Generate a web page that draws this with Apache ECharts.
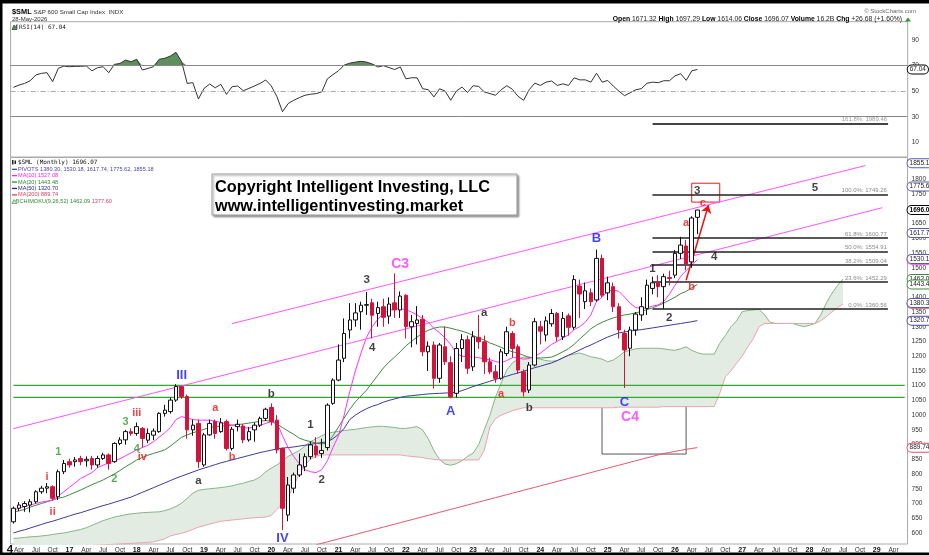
<!DOCTYPE html>
<html>
<head>
<meta charset="utf-8">
<script src="https://cdn.jsdelivr.net/npm/echarts@6.0.0/dist/echarts.min.js"></script>
<style>html,body{margin:0;padding:0;background:#fff;}#chart{width:929px;height:555px;}</style>
</head>
<body>
<div id="chart"></div>
<script>
// ---------- categories (monthly, Mar 2016 .. Jun 2029) ----------
const firstYear = 2016, firstMonth = 3, monthCount = 160;
const months = [];
for (let k = 0; k < monthCount; k++) {
  const m0 = firstMonth - 1 + k;
  months.push((firstYear + Math.floor(m0 / 12)) + '-' + String(m0 % 12 + 1).padStart(2, '0'));
}

// ---------- monthly candles [open, close, low, high] ----------
const candles = [
[638,684,632,690],[684,695,675,705],[690,700,672,708],[695,706,670,715],[706,740,700,745],[740,752,733,760],[752,757,735,770],[757,718,710,762],[723,808,712,815],[808,836,800,848],
[842,831,822,852],[842,848,825,858],[853,842,830,862],[845,850,825,860],[853,831,815,862],[831,853,822,862],[853,865,848,872],[865,836,815,870],[842,904,838,908],[904,916,898,925],[916,944,900,950],[944,938,930,955],
[938,961,930,975],[955,921,890,960],[915,938,905,955],[932,946,915,955],[944,1006,940,1010],[1006,1017,995,1035],[1012,1051,1005,1060],[1051,1097,1045,1105],[1097,1063,1055,1100],[1063,950,920,1070],[950,966,930,985],[972,842,820,985],
[831,933,825,940],[933,972,930,985],[978,938,920,985],[944,974,940,990],[978,887,880,985],[887,952,880,960],[961,969,945,985],[963,916,905,970],[916,944,910,960],[950,966,910,975],[966,989,960,995],[989,1020,980,1025],
[1026,978,965,1040],[983,882,870,1000],[887,684,610,890],[661,763,640,790],[752,797,735,805],[797,831,790,870],[825,859,810,870],[859,899,850,910],[895,865,855,925],[870,880,855,920],[890,1034,880,1040],[1040,1119,1035,1125],
[1119,1187,1115,1240],[1193,1277,1180,1328],[1289,1323,1260,1380],[1323,1347,1300,1380],[1351,1373,1290,1385],[1373,1375,1340,1418],[1381,1339,1260,1395],[1345,1365,1300,1385],[1368,1332,1300,1395],[1336,1377,1310,1400],[1381,1357,1330,1481],[1357,1404,1330,1420],
[1407,1300,1260,1410],[1300,1317,1230,1340],[1311,1323,1240,1370],[1325,1215,1200,1340],[1215,1234,1150,1250],[1238,1125,1090,1250],[1125,1238,1110,1245],[1232,1181,1170,1300],[1178,1062,1057,1200],[1074,1226,1060,1245],[1226,1256,1180,1275],[1256,1159,1140,1270],
[1164,1266,1150,1285],[1264,1249,1225,1340],[1249,1181,1140,1270],[1181,1147,1140,1195],[1147,1125,1110,1170],[1125,1215,1120,1225],[1209,1283,1200,1300],[1277,1226,1195,1285],[1232,1153,1140,1240],[1147,1079,1063,1155],[1085,1170,1075,1180],[1170,1317,1165,1330],
[1300,1285,1240,1320],[1272,1320,1250,1335],[1310,1345,1300,1360],[1345,1266,1250,1350],[1266,1328,1255,1350],[1337,1298,1270,1345],[1298,1460,1290,1475],[1438,1411,1330,1460],[1385,1422,1360,1450],[1415,1385,1370,1430],[1391,1532,1385,1562],[1532,1407,1400,1545],
[1415,1449,1390,1470],[1436,1368,1350,1450],[1368,1289,1260,1380],[1277,1221,1092,1290],[1227,1289,1200,1300],[1289,1343,1270,1350],[1340,1368,1320,1400],[1362,1441,1340,1460],[1430,1449,1410,1470],[1449,1436,1400,1475],[1436,1470,1361,1480],[1467,1464,1440,1490],
[1475,1549,1465,1560],[1549,1577,1530,1605],[1574,1513,1492,1594],[1520,1669,1500,1675],[1671.32,1696.07,1614.06,1697.29]
];

// ---------- RSI(14) ----------
const rsi = [53.0,54.8,56.1,58.2,62.7,64.0,64.5,57.5,67.9,69.7,
 69.2,69.5,69.5,69.8,66.0,68.4,69.2,64.5,71.0,71.8,74.4,73.1,
 75.0,66.6,67.9,69.2,75.0,75.8,77.6,80.5,73.1,56.1,56.7,43.9,
 52.2,55.6,52.7,55.4,47.5,53.5,54.1,50.4,52.2,54.1,56.1,58.8,
 54.1,45.7,33.9,40.3,42.9,45.0,46.8,47.6,48.1,49.5,59.7,63.0,
 66.1,70.5,72.0,72.8,73.4,72.8,71.3,69.0,70.0,68.5,67.0,69.0,
 59.7,60.5,60.5,51.9,51.2,45.5,51.9,50.1,42.9,50.1,53.2,49.0,
 54.3,53.7,49.4,48.1,46.8,51.2,54.3,51.5,46.0,42.9,51.2,56.3,
 54.5,57.1,58.0,54.5,55.8,54.5,60.5,58.9,58.9,57.1,64.1,57.1,
 58.4,54.0,50.0,46.5,48.8,51.1,52.0,56.2,57.1,56.7,58.2,58.2,
 62.0,63.7,58.5,66.0,67.04];
const rsiLevels = [70, 30];
const rsiMid = 50;
const rsiTicks = [10, 30, 50, 70, 90];

// ---------- moving averages ----------
const ma10 = [678,684,690,695,700,705,708,712,725,740,
 755,770,785,795,805,822,830,838,845,852,862,872,
 882,890,898,910,925,940,958,985,995,990,985,983,
 983,983,980,975,970,966,962,958,956,960,965,972,
 978,975,930,890,860,835,815,808,805,815,845,890,
 930,1000,1080,1150,1210,1265,1300,1325,1345,1355,1360,1362,
 1358,1350,1340,1328,1315,1295,1280,1262,1240,1210,1200,1198,
 1197,1195,1190,1188,1182,1178,1185,1195,1195,1190,1192,1200,
 1210,1225,1240,1250,1262,1272,1290,1300,1315,1340,1385,1400,
 1420,1425,1420,1401,1380,1365,1363,1363,1370,1374,1385,1410,
 1440,1470,1490,1510,1527.08];
const ma20 = [671,675,680,688,694,700,706,712,718,722,
 730,738,746,755,764,772,780,790,800,812,825,836,
 848,856,864,870,876,882,895,910,925,933,940,946,
 952,958,961,963,964,966,968,970,973,976,979,982,
 978,970,958,946,935,922,915,910,905,902,905,930,
 960,990,1020,1045,1065,1085,1110,1135,1160,1180,1197,1215,
 1235,1250,1265,1278,1288,1295,1299,1299,1295,1290,1285,1279,
 1270,1262,1255,1245,1238,1230,1222,1215,1211,1203,1196,1194,
 1194,1195,1197,1205,1215,1225,1240,1258,1275,1293,1305,1315,
 1323,1330,1335,1340,1343,1347,1352,1358,1364,1372,1380,1390,
 1400,1412,1420,1432,1443.48];
const ma50 = [600,606,611,617,623,629,635,640,646,652,
 658,664,669,675,681,687,693,698,704,710,716,722,
 730,738,746,754,762,770,778,786,793,800,807,814,
 820,826,832,838,843,848,853,858,863,868,873,877,
 881,885,888,890,892,895,898,901,904,907,909,920,
 935,955,985,1000,1012,1022,1030,1036,1044,1050,1055,1060,
 1064,1066,1068,1070,1072,1073,1074,1075,1076,1078,1083,1090,
 1097,1103,1109,1115,1121,1127,1132,1138,1143,1149,1155,1161,
 1166,1172,1177,1185,1194,1203,1212,1221,1230,1238,1247,1256,
 1265,1272,1279,1282,1285,1288,1290,1293,1296,1299,1302,1305,
 1308,1311,1314,1317,1320.70];
const ma200 = [null,null,null,null,null,null,null,null,null,null,
 null,null,null,null,null,null,null,null,null,null,null,null,
 null,null,null,null,null,null,null,null,null,null,null,null,
 null,null,null,null,null,null,null,null,null,null,null,null,
 null,null,null,null,null,null,null,null,560,565,570,575,
 580,585,590,595,600,605,610,615,620,625,630,635,
 640,645,650,655,660,665,670,675,680,685,690,695,
 700,705,710,715,720,725,730,735,740,745,750,755,
 760,765,770,775,780,785,790,795,800,805,810,815,
 820,825,830,835,840,845,850,855,860,865,870,873,
 877,880,884,887,889.74];

// ---------- Ichimoku cloud (spans, shifted 26 months ahead) ----------
const spanA = [582,583,585,587,588,590,592,595,598,600,
 604,608,612,618,626,634,642,648,654,658,662,665,
 667,669,670,671,672,676,682,690,701,718,735,745,
 748,750,752,754,757,760,765,769,775,780,790,808,
 820,831,845,860,870,880,895,910,920,930,938,942,
 945,948,950,952,955,958,960,962,962,960,958,955,
 955,958,961,950,920,880,850,834,830,835,845,860,
 871,900,950,1000,1061,1109,1153,1177,1190,1197,1197,1195,
 1190,1185,1183,1185,1195,1203,1207,1211,1205,1198,1195,1190,
 1181,1187,1200,1215,1220,1225,1227,1227,1227,1227,1225,1222,
 1220,1225,1232,1220,1212,1207,1207,1207,1244,1270,1300,1320,
 1351,1355,1357,1359,1340,1315,1311,1311,1311,1311,1305,1300,
 1305,1311,1340,1380,1413,1440,1462.09];
const spanB = [545,545,546,547,548,549,550,551,552,553,
 554,555,556,557,558,559,560,561,562,563,564,565,
 566,567,568,570,575,580,590,595,599,605,612,620,
 625,630,635,640,642,644,646,648,650,652,653,654,
 660,680,700,720,760,800,830,850,860,865,865,865,
 865,865,865,865,865,865,865,865,865,865,865,865,
 862,860,858,856,852,850,848,848,848,848,848,848,
 848,848,880,960,988,1000,1007,1015,1020,1025,1025,1025,
 1025,1025,1025,1025,1025,1025,1025,1025,1025,1025,1025,1025,
 1025,1025,1027,1027,1027,1027,1027,1027,1027,1027,1029,1029,
 1029,1029,1029,1029,1029,1029,1029,1029,1074,1130,1150,1176,
 1200,1232,1260,1300,1311,1311,1311,1311,1311,1311,1311,1311,
 1311,1311,1320,1334,1350,1365,1377.6];

// ---------- price axis tick labels ----------
const priceTicks = [600,650,700,750,800,850,900,950,1000,1050,1100,1150,1200,1250,1300,1350,1400,1450,1500,1550,1600,1650,1700,1750,1800,1850];

// ---------- Fibonacci levels ----------
const fibNames  = ['100.0%', '61.8%', '50.0%', '38.2%', '23.6%', '0.0%'];
const fibValues = [1749.26, 1600.77, 1554.91, 1509.04, 1452.29, 1360.56];
const fibExtName = '161.8%', fibExtValue = 1989.46;
const fibFrom = '2025-09', fibTo = '2029-03';

// ---------- horizontal support lines ----------
const supportLines = [1101, 1060];

// ---------- trend channel lines [from, to] as [month, value] ----------
const channels = [
  [['2016-03', 954], ['2029-02', 1704]],
  [['2019-06', 1310.5], ['2028-11', 1847]],
  [['2016-03', 557], ['2029-02', 1307]]
];

// ---------- boxes & arrow ----------
const blackBox = [['2024-12', 1134], ['2026-03', 868]];
const redBox = [['2026-04', 1787], ['2026-09', 1723]];
const redArrow = [['2026-03', 1458], ['2026-07', 1713]];

// ---------- right-edge value tags ----------
const pivotTags = [1855.18, 1775.62, 1617.74, 1530.18, 1380.30];
const lastClose = 1696.07;
const maTags = { ma10: 1527.08, ma20: 1443.48, ma50: 1320.70, ma200: 889.74 };
const ichiTags = { a: 1462.09, b: 1377.60 };
const rsiLast = 67.04;

// ---------- Elliott wave annotations [month, value, text] ----------
const blueLabels = [['2018-09',1136,'III'],['2020-03',583,'IV'],['2022-09',1011,'A'],['2024-11',1598,'B'],['2025-04',1044,'C']];
const magentaLabels = [['2021-12',1513,'C3'],['2025-05',994,'C4']];
const blackLabels = [['2018-12',776,'a'],['2020-01',1072,'b'],['2020-08',966,'1'],['2020-10',780,'2'],['2021-06',1458,'3'],['2021-07',1228,'4'],
  ['2023-03',1346,'a'],['2023-11',1024,'b'],['2025-09',1496,'1'],['2025-12',1329,'2'],['2026-05',1760,'3'],['2026-08',1537,'4'],['2028-02',1771,'5']];
const redLabels = [['2016-09',790,'i'],['2016-10',671,'ii'],['2018-01',1007,'iii'],['2018-02',858,'iv'],['2019-03',1024,'a'],['2019-06',858,'b'],
  ['2023-06',1072,'a'],['2023-08',1313,'b'],['2026-03',1652,'a'],['2026-04',1435,'b'],['2026-06',1720,'c']];
const greenLabels = [['2016-11',875,'1'],['2017-09',783,'2'],['2017-11',977,'3'],['2018-01',885,'4']];

// =====================================================================
const SANS = '"Liberation Sans", Arial, sans-serif';
const MONO = '"DejaVu Sans Mono", monospace';
const GL = 10.6, GR = 21.3;
const nulls = months.map(() => null);
const CLEAR = 'rgba(0,0,0,0)';

const chart = echarts.init(document.getElementById('chart'), null, { renderer: 'canvas', width: 929, height: 555 });

function hiddenCat(gi) {
  return { type: 'category', gridIndex: gi, data: months, boundaryGap: true,
    axisLine: { show: false }, axisTick: { show: false }, axisLabel: { show: false }, splitLine: { show: false } };
}
function tag(v, color, bold) {
  return { yAxis: v, lineStyle: { color: CLEAR, width: 1, type: 'solid' },
    label: { show: true, position: 'end', distance: 0, formatter: v.toFixed(2), color: bold ? '#000' : '#222', fontSize: 6.5, fontFamily: SANS,
      fontWeight: bold ? 'bold' : 'normal',
      backgroundColor: '#fff', borderColor: color, borderWidth: 1, borderRadius: 4, padding: [1, 2, 0, 2] } };
}
function annSeries(list, color, size) {
  return { type: 'scatter', xAxisIndex: 1, yAxisIndex: 1, symbolSize: 1, silent: true, z: 20,
    itemStyle: { color: CLEAR },
    label: { show: true, position: 'inside', color: color, fontSize: size, fontWeight: 'bold', fontFamily: SANS },
    data: list.map(d => ({ value: [d[0], d[1]], label: { formatter: d[2] } })) };
}

const option = {
  animation: false,
  backgroundColor: '#fff',
  grid: [
    { left: GL, right: GR, top: 21.7, height: 135.3, show: true, borderColor: '#aaa', borderWidth: 1, backgroundColor: '#fff' },
    { left: GL, right: GR, top: 157.5, height: 386.5, show: true, borderColor: '#aaa', borderWidth: 1, backgroundColor: 'transparent' },
    { left: GL, right: GR, top: 21.7, height: 522.3, show: false }
  ],
  xAxis: [
    hiddenCat(0),
    { type: 'category', gridIndex: 1, data: months, boundaryGap: true,
      axisLine: { show: false }, axisTick: { show: false }, splitLine: { show: false },
      axisLabel: { show: true, margin: 3, fontSize: 6.5, color: '#333', fontFamily: SANS, hideOverlap: false,
        interval: (idx, val) => ['01', '04', '07', '10'].includes(val.slice(5)),
        formatter: (val) => { const m = val.slice(5); if (m === '01') return '{y|' + val.slice(2, 4) + '}'; return { '04': 'Apr', '07': 'Jul', '10': 'Oct' }[m]; },
        rich: { y: { fontWeight: 'bold', fontSize: 7, color: '#111', fontFamily: SANS } } } },
    hiddenCat(2)
  ],
  yAxis: [
    { type: 'value', gridIndex: 0, position: 'right', min: -1.6, max: 104.5,
      axisLine: { show: false }, axisTick: { show: false }, splitLine: { show: false },
      axisLabel: { customValues: rsiTicks, formatter: v => String(v), fontSize: 6.5, color: '#333', fontFamily: SANS, margin: 4 } },
    { type: 'value', gridIndex: 1, position: 'right', min: 562.7, max: 1874.3,
      axisLine: { show: false }, axisTick: { show: false }, splitLine: { show: false },
      axisLabel: { customValues: priceTicks, formatter: v => String(v), fontSize: 6.5, color: '#333', fontFamily: SANS, margin: 4 } },
    { type: 'value', gridIndex: 2, min: 562.7, max: 2335.2, show: false }
  ],
  series: [
    // ---- RSI panel ----
    { type: 'line', xAxisIndex: 0, yAxisIndex: 0, data: rsi.map(v => Math.max(v, rsiLevels[0])), symbol: 'none', silent: true,
      lineStyle: { width: 0, color: CLEAR }, areaStyle: { origin: rsiLevels[0], color: '#5f8f5f', opacity: 1 }, z: 2 },
    { type: 'line', xAxisIndex: 0, yAxisIndex: 0, data: rsi, symbol: 'none', silent: true,
      lineStyle: { color: '#333', width: 1 }, z: 3,
      markLine: { symbol: 'none', silent: true, label: { show: false },
        data: [
          { yAxis: rsiLevels[0], lineStyle: { color: '#888', width: 1, type: 'solid' } },
          { yAxis: rsiLevels[1], lineStyle: { color: '#888', width: 1, type: 'solid' } },
          { yAxis: rsiMid, lineStyle: { color: '#aaa', width: 1, type: [5, 2, 1, 2] } },
          tag(rsiLast, '#000', false)
        ] } },
    // ---- Ichimoku cloud ----
    { type: 'line', xAxisIndex: 1, yAxisIndex: 1, stack: 'cloud', symbol: 'none', silent: true, z: 1,
      data: spanA.map((a, k) => Math.min(a, spanB[k])), lineStyle: { color: CLEAR } },
    { type: 'line', xAxisIndex: 1, yAxisIndex: 1, stack: 'cloud', symbol: 'none', silent: true, z: 1,
      data: spanA.map((a, k) => Math.abs(a - spanB[k])), lineStyle: { color: CLEAR },
      areaStyle: { color: '#e3ece3', opacity: 1 } },
    { type: 'line', xAxisIndex: 1, yAxisIndex: 1, data: spanA, symbol: 'none', silent: true, z: 2,
      lineStyle: { color: '#88b488', width: 1 } },
    { type: 'line', xAxisIndex: 1, yAxisIndex: 1, data: spanB, symbol: 'none', silent: true, z: 2,
      lineStyle: { color: '#e8a4ac', width: 1 } },
    // ---- support lines (green), drawn as a plain line series per level ----
    ...supportLines.map(v => ({ type: 'line', xAxisIndex: 1, yAxisIndex: 1, symbol: 'none', silent: true, z: 3,
      data: [[months[0], v], [months[monthCount - 1], v]],
      itemStyle: { color: '#2eaa2e' }, lineStyle: { color: '#2eaa2e', width: 1.2, opacity: 1 } })),
    // ---- overlays: channels, boxes, arrow ----
    { type: 'line', xAxisIndex: 1, yAxisIndex: 1, data: nulls, symbol: 'none', silent: true, z: 3,
      markLine: { symbol: 'none', silent: true, label: { show: false },
        data: [
          ...channels.map(c => [{ coord: c[0], lineStyle: { color: '#ff55ff', width: 1, type: 'solid' } }, { coord: c[1] }]),
          [{ coord: redArrow[0], symbol: 'none', lineStyle: { color: '#ee1111', width: 1.5, type: 'solid' } }, { coord: redArrow[1], symbol: 'arrow', symbolSize: 8 }]
        ] },
      markArea: { silent: true,
        data: [
          [{ coord: blackBox[0], itemStyle: { color: CLEAR, borderColor: '#555', borderWidth: 1 } }, { coord: blackBox[1] }],
          [{ coord: redBox[0], itemStyle: { color: CLEAR, borderColor: '#e02020', borderWidth: 1 } }, { coord: redBox[1] }]
        ] } },
    // ---- moving averages ----
    { type: 'line', xAxisIndex: 1, yAxisIndex: 1, data: ma200, symbol: 'none', silent: true, z: 4, lineStyle: { color: '#e2566e', width: 1 } },
    { type: 'line', xAxisIndex: 1, yAxisIndex: 1, data: ma50, symbol: 'none', silent: true, z: 4, lineStyle: { color: '#3a3a9a', width: 1 } },
    { type: 'line', xAxisIndex: 1, yAxisIndex: 1, data: ma20, symbol: 'none', silent: true, z: 4, lineStyle: { color: '#3f8a3f', width: 1 } },
    { type: 'line', xAxisIndex: 1, yAxisIndex: 1, data: ma10, symbol: 'none', silent: true, z: 4, lineStyle: { color: '#ff33ff', width: 1 } },
    // ---- fib lines ----
    { type: 'line', xAxisIndex: 1, yAxisIndex: 1, data: nulls, symbol: 'none', silent: true, z: 5,
      markLine: { symbol: 'none', silent: true,
        data: fibValues.map((v, k) => [
          { coord: [fibFrom, v], lineStyle: { color: '#222', width: 1.5, type: 'solid' },
            label: { show: true, position: 'insideEndTop', distance: 1, formatter: fibNames[k] + ': ' + v.toFixed(2), color: '#8a8a8a', fontSize: 6, fontFamily: SANS } },
          { coord: [fibTo, v] }]) } },
    { type: 'line', xAxisIndex: 2, yAxisIndex: 2, data: nulls, symbol: 'none', silent: true, z: 5,
      markLine: { symbol: 'none', silent: true,
        data: [[{ coord: [fibFrom, fibExtValue], lineStyle: { color: '#444', width: 2, type: 'solid' },
          label: { show: true, position: 'insideEndTop', distance: 1, formatter: fibExtName + ': ' + fibExtValue.toFixed(2), color: '#999', fontSize: 6, fontFamily: SANS } },
          { coord: [fibTo, fibExtValue] }]] } },
    // ---- price candles ----
    { type: 'candlestick', xAxisIndex: 1, yAxisIndex: 1, data: candles, barWidth: 4, silent: true, z: 6,
      itemStyle: { color: '#ffffff', borderColor: '#111', color0: '#d2143c', borderColor0: '#d2143c', borderWidth: 1 } },
    // ---- right-edge tags ----
    { type: 'line', xAxisIndex: 1, yAxisIndex: 1, data: nulls, symbol: 'none', silent: true, z: 30,
      markLine: { symbol: 'none', silent: true,
        data: [
          tag(ichiTags.b, '#e0506a'),
          tag(maTags.ma10, '#ff33ff'),
          tag(ichiTags.a, '#3f8a3f'),
          tag(maTags.ma20, '#3f8a3f'),
          tag(maTags.ma50, '#4a4aa8'),
          tag(maTags.ma200, '#e0506a'),
          ...pivotTags.map(v => tag(v, '#5a5ab0')),
          tag(lastClose, '#000', true)
        ] } },
    // ---- wave labels ----
    annSeries(blueLabels, '#1515ff', 13),
    annSeries(magentaLabels, '#ff33ff', 14),
    annSeries(blackLabels, '#111', 11.5),
    annSeries(redLabels, '#ee1111', 11),
    annSeries(greenLabels, '#2f9a2f', 11)
  ],
  graphic: [
    // frame
    { type: 'rect', shape: { x: 0, y: 0, width: 929, height: 3.5 }, style: { fill: '#000' }, z: 100 },
    { type: 'rect', shape: { x: 0, y: 0, width: 2.5, height: 555 }, style: { fill: '#000' }, z: 100 },
    { type: 'rect', shape: { x: 0, y: 552.5, width: 929, height: 2.5 }, style: { fill: '#000' }, z: 100 },
    // header
    { type: 'text', x: 12, y: 12, style: { text: '$SML', font: 'bold 7.4px ' + SANS, fill: '#000', verticalAlign: 'middle' }, z: 100 },
    { type: 'text', x: 33.5, y: 12.3, style: { text: 'S&P 600 Small Cap Index  INDX', font: '6.2px ' + SANS, fill: '#333', verticalAlign: 'middle' }, z: 100 },
    { type: 'text', x: 12, y: 19.5, style: { text: '28-May-2026', font: '6px ' + SANS, fill: '#333', verticalAlign: 'middle' }, z: 100 },
    { type: 'text', x: 916, y: 11, style: { text: '\u00A9 StockCharts.com', font: '6px ' + SANS, fill: '#666', align: 'right', verticalAlign: 'middle' }, z: 100 },
    { type: 'text', x: 902, y: 19.3, style: { text: '{b|Open} 1671.32 {b|High} 1697.29 {b|Low} 1614.06 {b|Close} 1696.07 {b|Volume} 16.2B {b|Chg} +26.68 (+1.60%)',
        font: '6.8px ' + SANS, fill: '#222', align: 'right', verticalAlign: 'middle',
        rich: { b: { fontWeight: 'bold', fontSize: 6.8, fontFamily: SANS, fill: '#000' } } }, z: 100 },
    { type: 'polygon', shape: { points: [[905, 21.5], [911, 21.5], [908, 17.5]] }, style: { fill: '#2a9a2a' }, z: 100 },
    // RSI legend
    { type: 'polygon', shape: { points: [[12, 29.5], [14, 25], [15.5, 27], [17, 24.5], [17, 29.5]] }, style: { fill: '#5f8f5f', stroke: '#222', lineWidth: 0.6 }, z: 100 },
    { type: 'text', x: 19, y: 27.3, style: { text: 'RSI(14) 67.04', font: '6px ' + MONO, fill: '#222', verticalAlign: 'middle' }, z: 100 },
    // main legend
    { type: 'rect', shape: { x: 12, y: 160, width: 1.5, height: 4.5 }, style: { fill: '#222' }, z: 100 },
    { type: 'rect', shape: { x: 14.5, y: 160.5, width: 1.5, height: 3.5 }, style: { fill: '#222' }, z: 100 },
    { type: 'text', x: 18, y: 162.5, style: { text: '$SML (Monthly) 1696.07', font: '6px ' + MONO, fill: '#111', verticalAlign: 'middle' }, z: 100 },
    ...[
      ['PIVOTS 1380.30, 1530.18, 1617.74, 1775.62, 1855.18', '#4646a8', 169.3],
      ['MA(10) 1527.08', '#ff22ff', 175.6],
      ['MA(20) 1443.48', '#338833', 182],
      ['MA(50) 1320.70', '#26268f', 188.4],
      ['MA(200) 889.74', '#e0405e', 194.8]
    ].flatMap(r => [
      { type: 'rect', shape: { x: 12, y: r[2] - 0.6, width: 5, height: 1.3 }, style: { fill: r[1] }, z: 100 },
      { type: 'text', x: 18, y: r[2], style: { text: r[0], font: '5.6px ' + SANS, fill: r[1], verticalAlign: 'middle' }, z: 100 }
    ]),
    { type: 'polygon', shape: { points: [[12, 203.5], [14, 199.5], [15.5, 201.5], [17, 199], [17, 203.5]] }, style: { fill: '#cfe0cf', stroke: '#338833', lineWidth: 0.6 }, z: 100 },
    { type: 'text', x: 18, y: 201.2, style: { text: 'ICHIMOKU(9,26,52) 1462.09 {r|1377.60}', font: '5.6px ' + SANS, fill: '#338833', verticalAlign: 'middle',
        rich: { r: { fill: '#e0405e', fontSize: 5.6, fontFamily: SANS } } }, z: 100 },
    // copyright box
    { type: 'rect', shape: { x: 212, y: 174, width: 305, height: 41 }, style: { fill: '#fff', stroke: '#999', lineWidth: 1, shadowBlur: 2, shadowOffsetX: 1.5, shadowOffsetY: 1.5, shadowColor: 'rgba(0,0,0,0.35)' }, z: 90 },
    { type: 'text', x: 215, y: 187.2, style: { text: 'Copyright Intelligent Investing, LLC', font: 'bold 16.3px ' + SANS, fill: '#000', verticalAlign: 'middle' }, z: 91 },
    { type: 'text', x: 215, y: 206.2, style: { text: 'www.intelligentinvesting.market', font: 'bold 16.3px ' + SANS, fill: '#000', verticalAlign: 'middle' }, z: 91 },
    // cut-off wave label at bottom-left
    { type: 'text', x: 10, y: 550, style: { text: '4', font: 'bold 11.5px ' + SANS, fill: '#111', align: 'center', verticalAlign: 'middle' }, z: 95 }
  ]
};
chart.setOption(option);
</script>
</body>
</html>
